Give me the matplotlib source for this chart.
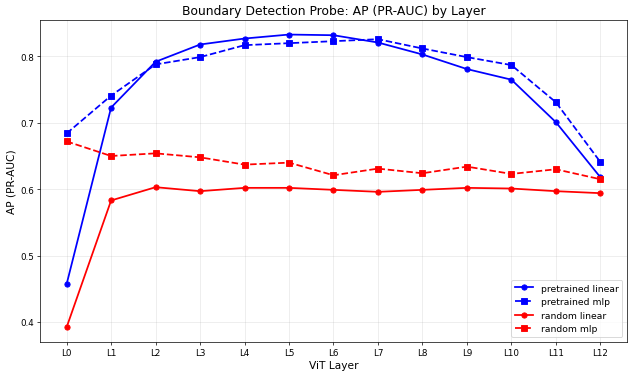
import matplotlib
matplotlib.use("Agg")
import matplotlib.pyplot as plt

layers = [f"L{i}" for i in range(13)]

pretrained_linear = [0.457, 0.723, 0.792, 0.818, 0.827, 0.833, 0.832, 0.821, 0.803, 0.781, 0.765, 0.701, 0.618]
pretrained_mlp = [0.684, 0.741, 0.788, 0.799, 0.817, 0.820, 0.823, 0.826, 0.812, 0.799, 0.787, 0.731, 0.641]
random_linear = [0.392, 0.583, 0.603, 0.597, 0.602, 0.602, 0.599, 0.596, 0.599, 0.602, 0.601, 0.597, 0.594]
random_mlp = [0.672, 0.650, 0.654, 0.648, 0.637, 0.640, 0.621, 0.631, 0.624, 0.634, 0.623, 0.630, 0.615]

x = list(range(len(layers)))

fig, ax = plt.subplots(figsize=(10, 5.96), dpi=63.4)
ax.plot(x, pretrained_linear, color="blue", linestyle="-", marker="o", linewidth=2, markersize=6, label="pretrained linear")
ax.plot(x, pretrained_mlp, color="blue", linestyle="--", marker="s", linewidth=2, markersize=6, label="pretrained mlp")
ax.plot(x, random_linear, color="red", linestyle="-", marker="o", linewidth=2, markersize=6, label="random linear")
ax.plot(x, random_mlp, color="red", linestyle="--", marker="s", linewidth=2, markersize=6, label="random mlp")

ax.set_xticks(x)
ax.set_xticklabels(layers)
ax.set_xlabel("ViT Layer", fontsize=12)
ax.set_ylabel("AP (PR-AUC)", fontsize=12)
ax.set_title("Boundary Detection Probe: AP (PR-AUC) by Layer", fontsize=14)
ax.legend(loc="lower right", fontsize=10.5)
ax.grid(True, alpha=0.3)

fig.subplots_adjust(left=0.063, right=0.989, top=0.945, bottom=0.093)
plt.savefig("out.png", dpi=63.4)
